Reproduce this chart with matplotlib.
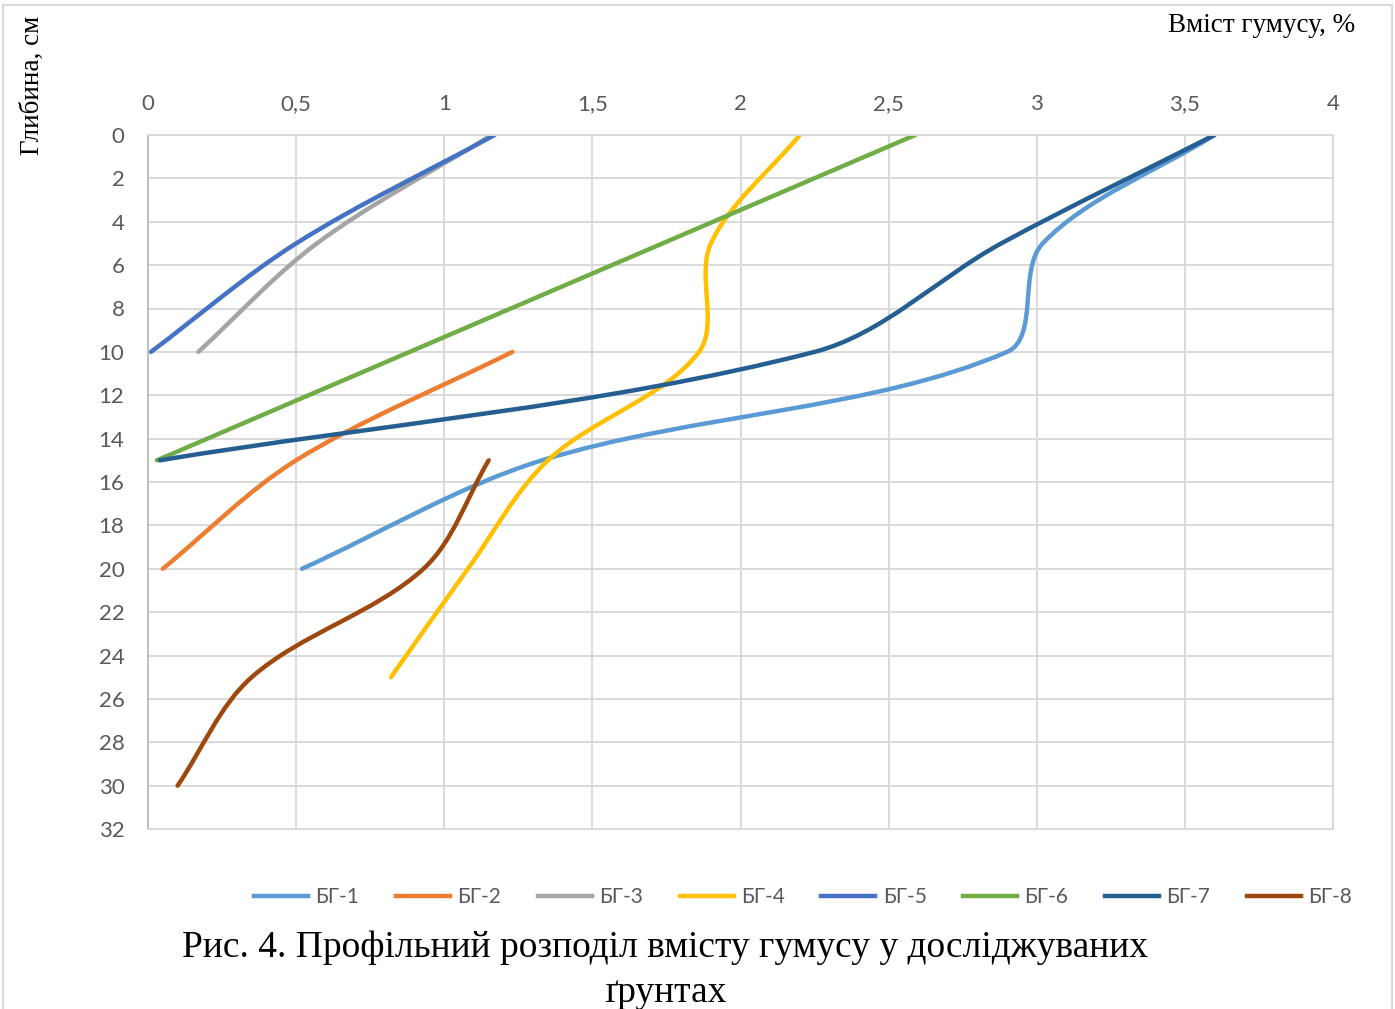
import numpy as np
import matplotlib.pyplot as plt
from matplotlib.path import Path
from matplotlib.patches import PathPatch, Rectangle
from matplotlib.lines import Line2D
from matplotlib.ticker import FuncFormatter

# Вміст гумусу (%) по глибині (см) для кожного профілю
names = ['БГ-1', 'БГ-2', 'БГ-3', 'БГ-4', 'БГ-5', 'БГ-6', 'БГ-7', 'БГ-8']
colors = ['#5B9BD5', '#ED7D31', '#A5A5A5', '#FFC000',
          '#4472C4', '#70AD47', '#255E91', '#9E480E']

bg1_x = [3.6, 3.02, 2.9, 1.33, 0.52]
bg1_y = [0, 5, 10, 15, 20]
bg2_x = [1.23, 0.5, 0.05]
bg2_y = [10, 15, 20]
bg3_x = [1.16, 0.57, 0.17]
bg3_y = [0, 5, 10]
bg4_x = [2.2, 1.9, 1.86, 1.35, 1.08, 0.82]
bg4_y = [0, 5, 10, 15, 20, 25]
bg5_x = [1.17, 0.5, 0.01]
bg5_y = [0, 5, 10]
bg6_x = [2.59, 0.03]
bg6_y = [0, 15]
bg7_x = [3.6, 2.88, 2.25, 0.04]
bg7_y = [0, 5, 10, 15]
bg8_x = [1.15, 0.93, 0.35, 0.1]
bg8_y = [15, 20, 25, 30]

series_x = [bg1_x, bg2_x, bg3_x, bg4_x, bg5_x, bg6_x, bg7_x, bg8_x]
series_y = [bg1_y, bg2_y, bg3_y, bg4_y, bg5_y, bg6_y, bg7_y, bg8_y]

x_ticks = np.arange(0, 4.01, 0.5)
y_ticks = np.arange(0, 33, 2)


def smooth_path(ax, xs, ys):
    # згладжена лінія як в Excel: кубічні Безьє через точки (в екранних координатах)
    pts = ax.transData.transform(np.column_stack([xs, ys]))
    n = len(pts)
    verts = [pts[0]]
    codes = [Path.MOVETO]
    for i in range(n - 1):
        p0 = pts[max(i - 1, 0)]
        p1 = pts[i]
        p2 = pts[i + 1]
        p3 = pts[min(i + 2, n - 1)]
        d01 = np.hypot(*(p1 - p0))
        d12 = np.hypot(*(p2 - p1))
        d23 = np.hypot(*(p3 - p2))
        c1 = p1 + (p2 - p0) * d12 / (d01 + d12) / 3
        c2 = p2 - (p3 - p1) * d12 / (d12 + d23) / 3
        verts += [c1, c2, p2]
        codes += [Path.CURVE4] * 3
    verts = ax.transData.inverted().transform(np.array(verts))
    return Path(verts, codes)


fig = plt.figure(figsize=(13.95, 10.09), dpi=100)
ax = fig.add_axes([148 / 1395, 1 - 829 / 1009, 1185 / 1395, 694 / 1009])
ax.set_xlim(0, 4)
ax.set_ylim(32, 0)

grid_c = '#D9D9D9'
ax.set_xticks(x_ticks)
ax.set_yticks(y_ticks)
ax.grid(True, color=grid_c, lw=1.4)
ax.set_axisbelow(True)
ax.xaxis.tick_top()
ax.tick_params(length=0, labelsize=16, labelcolor='#595959')
ax.tick_params(axis='x', pad=15)
ax.tick_params(axis='y', pad=17)
fmt = FuncFormatter(lambda v, p: f'{v:g}'.replace('.', ','))
ax.xaxis.set_major_formatter(fmt)
ax.yaxis.set_major_formatter(fmt)
for lab in ax.get_xticklabels() + ax.get_yticklabels():
    lab.set_fontfamily('Lato')
for s in ['top', 'right', 'bottom']:
    ax.spines[s].set_color(grid_c)
    ax.spines[s].set_linewidth(1.4)
ax.spines['left'].set_color('#BFBFBF')
ax.spines['left'].set_linewidth(1.4)

handles = []
for xs, ys, c, nm in zip(series_x, series_y, colors, names):
    ax.add_patch(PathPatch(smooth_path(ax, xs, ys), fill=False, edgecolor=c,
                           lw=3.2, capstyle='round', joinstyle='round'))
    handles.append(Line2D([], [], color=c, lw=3.2, label=nm))

fig.legend(handles=handles, loc='center', bbox_to_anchor=(803 / 1395, 1 - 897 / 1009),
           ncol=8, frameon=False, handlelength=2.6, handletextpad=0.35,
           columnspacing=1.75, prop={'family': 'Lato', 'size': 15},
           labelcolor='#595959')

fig.text(1355 / 1395, 1 - 25 / 1009, 'Вміст гумусу, %', ha='right', va='center',
         family='Liberation Serif', size=19.5)
fig.text(32 / 1395, 1 - 85 / 1009, 'Глибина, см', ha='center', va='center',
         rotation=90, family='Liberation Serif', size=19.5)

fig.text(665 / 1395, 1 - 948 / 1009,
         'Рис. 4. Профільний розподіл вмісту гумусу у досліджуваних',
         ha='center', va='center', family='Liberation Serif', size=27)
fig.text(665 / 1395, 1 - 993 / 1009, 'ґрунтах', ha='center', va='center',
         family='Liberation Serif', size=27)

fig.patches.append(Rectangle((3 / 1395, -0.02), 1389 / 1395, 1.02 - 5 / 1009,
                             transform=fig.transFigure, fill=False,
                             edgecolor=grid_c, lw=1.5))

fig.savefig('out.png', dpi=100)
